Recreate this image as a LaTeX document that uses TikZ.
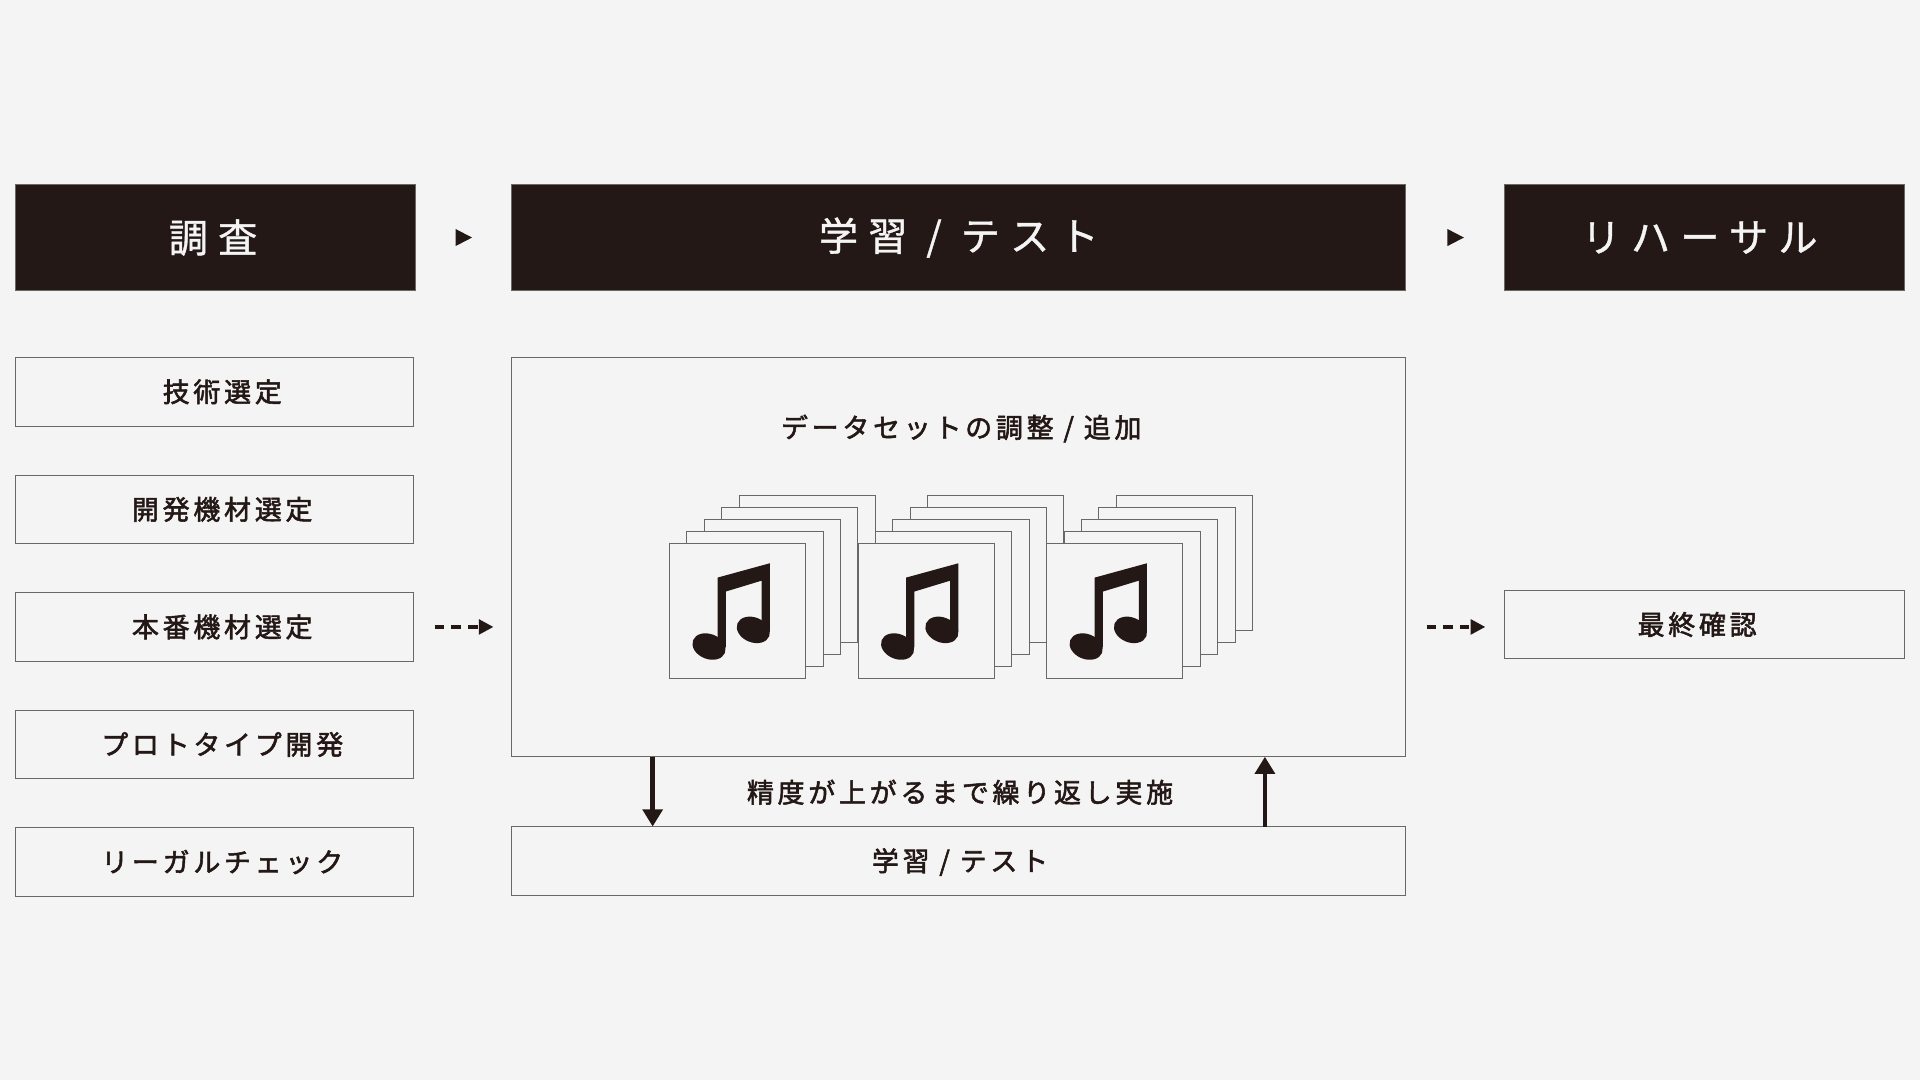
\documentclass[tikz,border=0pt]{standalone}
\usepackage{fontspec}
\setmainfont{Noto Sans CJK JP}
\newfontfamily\hdfont[LetterSpace=26,FakeBold=1]{Noto Sans CJK JP}
\newfontfamily\bxfont[LetterSpace=14,FakeBold=2]{Noto Sans CJK JP}
\usetikzlibrary{arrows.meta}
\definecolor{bg}{HTML}{F4F4F4}
\definecolor{ink}{HTML}{231815}
\definecolor{rulec}{HTML}{6A6767}
\tikzset{
  hdbox/.style={draw=rulec, line width=0.8pt, fill=ink, inner sep=0pt, outer sep=0pt,
    minimum height=86pt},
  hdtext/.style={text=bg, inner sep=0pt, font=\hdfont\fontsize{32}{38}\selectfont},
  itembox/.style={draw=rulec, line width=0.9pt, fill=bg, inner sep=0pt, outer sep=0pt,
    minimum height=56pt},
  itemtext/.style={text=ink, inner sep=0pt, font=\bxfont\fontsize{22}{26}\selectfont},
  card/.style={draw=rulec, line width=0.7pt, fill=bg},
  tri/.style={fill=ink},
  dasharrow/.style={draw=ink, line width=2.8pt, dash pattern=on 8pt off 5.5pt,
    -{Triangle[length=12pt,width=12pt]}},
  looparrow/.style={draw=ink, line width=3.6pt, -{Triangle[length=14pt,width=16pt]}}
}
\newcommand{\notecard}[2]{%
  \begin{scope}[shift={(#1,#2)}]
    \fill[ink] (39.3,28) -- (82,16.3) -- (82,72) -- (75.3,72) -- (75.3,30.5)
      -- (46,39.4) -- (46,85) -- (39.3,85) -- cycle;
    \fill[ink, rotate around={-22:(32.3,84.3)}] (32.3,84.3) ellipse [x radius=14pt, y radius=10.2pt];
    \fill[ink, rotate around={-22:(68.5,70.7)}] (68.5,70.7) ellipse [x radius=14pt, y radius=10.2pt];
  \end{scope}}
\newcommand{\cardstack}[2]{%
  \foreach \k in {4,3,2,1,0}{
    \draw[card] ({#1+14.2*\k},{#2-9.8*\k}) rectangle ++(111.3,110.3);
  }
  \notecard{#1}{#2}}
\begin{document}
\begin{tikzpicture}[x=1pt,y=-1pt]
\fill[bg] (0,0) rectangle (1568,882);
\useasboundingbox (0,0) rectangle (1568,882);

% headers
\node[hdbox, minimum width=326pt, label={[hdtext, xshift=-2pt]center:調査}] (h1) at (176,194) {};
\node[hdbox, minimum width=730pt, label={[hdtext, xshift=0pt]center:学習 / テスト}] (h2) at (783,194) {};
\node[hdbox, minimum width=326pt, label={[hdtext, xshift=-4pt]center:リハーサル}] (h3) at (1392,194) {};

\path (h1.east) -- (h2.west) coordinate[pos=0.5] (t1);
\path (h2.east) -- (h3.west) coordinate[pos=0.5] (t2);
\fill[tri] ([xshift=-6.5pt,yshift=7pt]t1) -- ([xshift=7pt]t1) -- ([xshift=-6.5pt,yshift=-7pt]t1) -- cycle;
\fill[tri] ([xshift=-6.5pt,yshift=7pt]t2) -- ([xshift=7pt]t2) -- ([xshift=-6.5pt,yshift=-7pt]t2) -- cycle;

% left column
\node[itembox, minimum width=325pt, label={[itemtext, xshift=6pt]center:技術選定}] (b1) at (175.5,320) {};
\node[itembox, minimum width=325pt, label={[itemtext, xshift=6pt]center:開発機材選定}] (b2) at (175.5,416) {};
\node[itembox, minimum width=325pt, label={[itemtext, xshift=6pt]center:本番機材選定}] (b3) at (175.5,512) {};
\node[itembox, minimum width=325pt, label={[itemtext, xshift=6pt]center:プロトタイプ開発}] (b4) at (175.5,608) {};
\node[itembox, minimum width=325pt, label={[itemtext, xshift=6pt]center:リーガルチェック}] (b5) at (175.5,704) {};

% main box
\node[itembox, minimum width=730pt, minimum height=326pt] (main) at (783,455) {};
\node[itemtext] (dtitle) at (785,350) {データセットの調整 / 追加};
\cardstack{546.7}{443.7}
\cardstack{700.7}{443.7}
\cardstack{854.7}{443.7}

% bottom box
\node[itembox, minimum width=730pt, label={[itemtext, xshift=1pt, yshift=-1pt]center:学習 / テスト}] (train) at (783,703) {};
\node[itemtext] (looptext) at (784,647) {精度が上がるまで繰り返し実施};
\draw[looparrow] (main.south -| 533,0) -- (train.north -| 533,0);
\draw[looparrow] (train.north -| 1033,0) -- (main.south -| 1033,0);

% right box
\node[itembox, minimum width=326pt, label={[itemtext, xshift=-6pt]center:最終確認}] (final) at (1392,510) {};

% dashed arrows
\draw[dasharrow, shorten <=17pt, shorten >=15pt] (b3.east) -- (main.west |- b3.east);
\draw[dasharrow, shorten <=17pt, shorten >=16pt] (main.east |- b3.east) -- (final.west |- b3.east);
\end{tikzpicture}
\end{document}
